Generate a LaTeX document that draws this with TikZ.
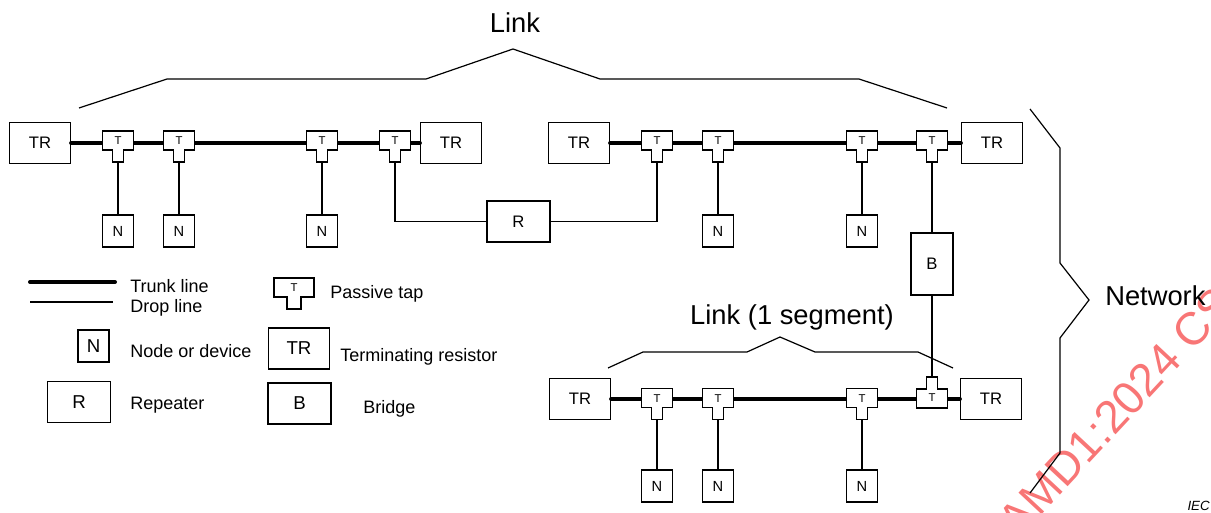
\documentclass[tikz,border=0pt]{standalone}
\usepackage{fontspec}
\setmainfont{Liberation Sans}
\definecolor{wm}{RGB}{248,118,118}
\begin{document}
\begin{tikzpicture}[x=0.75pt,y=-0.75pt,
  box/.style={draw, fill=white, line width=0.9pt, inner sep=0pt},
  trbox/.style={box, minimum width=45.75pt, minimum height=30.75pt, font=\fontsize{12.5}{14}\selectfont},
  nbox/.style={box, minimum width=23.25pt, minimum height=24pt, font=\fontsize{11}{13}\selectfont},
  rbox/.style={box, minimum width=47.25pt, minimum height=30.75pt, font=\fontsize{12.5}{14}\selectfont},
  bbox/.style={box, minimum width=31.5pt, minimum height=46.5pt, font=\fontsize{12.5}{14}\selectfont},
  legfont/.style={font=\fontsize{14}{16}\selectfont},
  trunk/.style={line width=3pt, line cap=round},
  drop/.style={line width=0.9pt},
  brace/.style={line width=0.9pt, line join=miter},
  lbl/.style={font=\fontsize{13.5}{16}\selectfont, anchor=base west, inner sep=0pt},
  big/.style={font=\fontsize{20.5}{24}\selectfont, inner sep=0pt, anchor=base},
  tap/.pic={
    \draw[fill=white, line width=0.9pt, line join=miter]
      (-15.5,-9.5) -- (15.5,-9.5) -- (15.5,9.5) -- (5.5,9.5) -- (5.5,21.5)
      -- (-5.5,21.5) -- (-5.5,9.5) -- (-15.5,9.5) -- cycle;
    \node[font=\fontsize{8.5}{10}\selectfont, inner sep=0pt] (-t) at (0,0.5) {T};
    \coordinate (-s) at (0,21.5);
  }
]
\useasboundingbox (0,0) rectangle (1211,513);

% watermark
\begin{scope}
  \clip (0,0) rectangle (1211,513);
  \node[rotate=47, anchor=base west, inner sep=0pt, text=wm,
        font=\fontsize{34.5}{40}\selectfont] (wmark) at (1018,540) {AMD1:2024 CSV};
\end{scope}

% terminating resistors
\node[trbox] (tr1) at (40,143) {TR};
\node[trbox] (tr2) at (451,143) {TR};
\node[trbox] (tr3) at (579,143) {TR};
\node[trbox] (tr4) at (992,143) {TR};
\node[trbox] (tr5) at (580,399) {TR};
\node[trbox] (tr6) at (991,399) {TR};

% trunk lines
\draw[trunk] (tr1.east) -- (tr2.west);
\draw[trunk] (tr3.east) -- (tr4.west);
\draw[trunk] (tr5.east) -- (tr6.west);

% taps
\pic (t1) at (118,140.5) {tap};
\pic (t2) at (179,140.5) {tap};
\pic (t3) at (322,140.5) {tap};
\pic (t4) at (395,140.5) {tap};
\pic (t5) at (657,140.5) {tap};
\pic (t6) at (718,140.5) {tap};
\pic (t7) at (862,140.5) {tap};
\pic (t8) at (932,140.5) {tap};
\pic (b1) at (657,398) {tap};
\pic (b2) at (718,398) {tap};
\pic (b3) at (862,398) {tap};
\pic[rotate=180] (ti) at (932,398.5) {tap};

% devices
\node[nbox] (n1) at (118,231) {N};
\node[nbox] (n2) at (179,231) {N};
\node[nbox] (n3) at (322,231) {N};
\node[nbox] (n4) at (718,231) {N};
\node[nbox] (n5) at (862,231) {N};
\node[nbox] (n6) at (657,486) {N};
\node[nbox] (n7) at (718,486) {N};
\node[nbox] (n8) at (862,486) {N};
\node[rbox] (rep) at (518.5,221.5) {R};
\node[bbox] (br) at (932,264) {B};

% drop lines
\draw[drop] (t1-s) -- (n1.north);
\draw[drop] (t2-s) -- (n2.north);
\draw[drop] (t3-s) -- (n3.north);
\draw[drop] (t6-s) -- (n4.north);
\draw[drop] (t7-s) -- (n5.north);
\draw[drop] (b1-s) -- (n6.north);
\draw[drop] (b2-s) -- (n7.north);
\draw[drop] (b3-s) -- (n8.north);
\draw[drop] (t4-s) |- (rep.west);
\draw[drop] (rep.east) -| (t5-s);
\draw[drop] (t8-s) -- (br.north);
\draw[drop] (br.south) -- (ti-s);

% braces
\draw[brace] (79,108) -- (167,79) -- (426,79) -- (513,49) -- (600,79) -- (859,79) -- (947,108);
\draw[brace] (608,368) -- (643,352) -- (747,352) -- (780,337) -- (815,352) -- (918,352) -- (953,368);
\draw[brace] (1030,109) -- (1060,148) -- (1060,263) -- (1089,300) -- (1060,338) -- (1060,453) -- (1030,493);
\node[big] (link) at (515,33) {Link};
\node[big] (link1) at (792,325) {Link (1 segment)};
\node[big, anchor=base west] (net) at (1105,306) {Network};
\node[font=\fontsize{10}{12}\selectfont\itshape, anchor=base east, inner sep=0pt] (iec) at (1210,510) {IEC};

% legend
\coordinate (lta) at (30,282);
\coordinate (ltb) at (115,282);
\draw[trunk] (lta) -- (ltb);
\coordinate (lda) at (30,302);
\coordinate (ldb) at (113,302);
\draw[drop] (lda) -- (ldb);
\node[lbl] (ltrunk) at (130,293) {Trunk line};
\node[lbl] (ldrop) at (130,313) {Drop line};
\pic[xscale=1.29] (lt) at (294,287.5) {tap};
\node[lbl] (ltap) at (330,299) {Passive tap};
\node[nbox, legfont] (ln) at (93.5,346) {N};
\node[lbl] (lnode) at (130,358) {Node or device};
\node[trbox, legfont] (ltr) at (299,348.5) {TR};
\node[lbl] (lterm) at (340,362) {Terminating resistor};
\node[rbox, legfont] (lr) at (79,402) {R};
\node[lbl] (lrep) at (130,410) {Repeater};
\node[bbox, legfont, minimum width=47.25pt, minimum height=30.75pt] (lb) at (299.5,403.5) {B};
\node[lbl] (lbridge) at (363,413) {Bridge};
\end{tikzpicture}
\end{document}
